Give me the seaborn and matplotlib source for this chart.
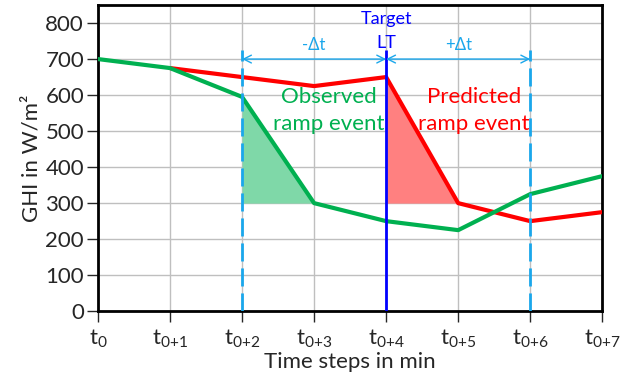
import numpy as np
import pandas as pd
import seaborn as sns
from matplotlib import pyplot as plt

# Data
steps = [0, 1, 2, 3, 4, 5, 6, 7]
tick_labels = [r'$\mathregular{t_{0}}$', r'$\mathregular{t_{0{+}1}}$', r'$\mathregular{t_{0{+}2}}$',
               r'$\mathregular{t_{0{+}3}}$', r'$\mathregular{t_{0{+}4}}$', r'$\mathregular{t_{0{+}5}}$',
               r'$\mathregular{t_{0{+}6}}$', r'$\mathregular{t_{0{+}7}}$']
observed = [700, 675, 595, 300, 250, 225, 325, 375]
predicted = [np.nan, 675, 650, 625, 650, 300, 250, 275]
ramp_base = 300
obs_ramp = [2, 3]
pred_ramp = [4, 5]
window = [2, 4, 6]

sns.set_style('white')
plt.rcParams['font.family'] = ['Lato', 'DejaVu Sans']
plt.rcParams['mathtext.fontset'] = 'custom'
plt.rcParams['mathtext.rm'] = 'Lato'

green = '#00B050'
red = '#FF0000'
cyan = '#1AA7EC'

df = pd.DataFrame({'step': steps, 'Observed': observed, 'Predicted': predicted})

fig = plt.figure(figsize=(6.28, 3.88), dpi=100)
ax = fig.add_axes([0.156, 0.198, 0.803, 0.789])

# ramp areas
ax.fill_between(obs_ramp, [observed[i] for i in obs_ramp], ramp_base, color='#7FD8A8', lw=0, zorder=2)
ax.fill_between(pred_ramp, [predicted[i] for i in pred_ramp], ramp_base, color='#FF8080', lw=0, zorder=2)

sns.lineplot(data=df, x='step', y='Observed', color=green, lw=3, ax=ax, zorder=4)
sns.lineplot(data=df, x='step', y='Predicted', color=red, lw=3, ax=ax, zorder=3)

# time window markers
ax.vlines([window[0], window[2]], 0, 725, colors=cyan, linestyles=(0, (6.5, 2.5)), lw=2, zorder=5)
ax.vlines(window[1], 0, 725, colors='#0000FF', lw=2, zorder=5)
for a, b in [(window[0], window[1]), (window[1], window[2])]:
    ax.annotate('', xy=(a, 700), xytext=(b, 700),
                arrowprops=dict(arrowstyle='<->', color=cyan, lw=1, mutation_scale=14, shrinkA=0, shrinkB=0),
                zorder=6)

ax.text(3, 740, '-Δt', color=cyan, ha='center', va='center', fontsize=12)
ax.text(5, 740, '+Δt', color=cyan, ha='center', va='center', fontsize=12)
ax.text(4, 812, 'Target', color='#0000FF', ha='center', va='center', fontsize=13)
ax.text(4, 746, 'LT', color='#0000FF', ha='center', va='center', fontsize=13)
ax.text(3.2, 594, 'Observed', color=green, ha='center', va='center', fontsize=16)
ax.text(3.2, 519, 'ramp event', color=green, ha='center', va='center', fontsize=16)
ax.text(5.22, 594, 'Predicted', color=red, ha='center', va='center', fontsize=16)
ax.text(5.22, 519, 'ramp event', color=red, ha='center', va='center', fontsize=16)

ax.set_xlim(0, 7)
ax.set_ylim(0, 850)
ax.set_xticks(steps)
ax.set_xticklabels(tick_labels, fontsize=16)
ax.set_yticks(range(0, 900, 100))
ax.tick_params(axis='y', labelsize=16, length=8, width=1, direction='out', left=True, pad=2)
ax.tick_params(axis='x', length=8, width=1, direction='out', bottom=True, pad=4)
ax.grid(color='#BFBFBF', lw=1)
ax.set_axisbelow(True)
for s in ax.spines.values():
    s.set_color('black')
    s.set_linewidth(2)
ax.set_xlabel('Time steps in min', fontsize=16, labelpad=1)
ax.set_ylabel('GHI in W/m²', fontsize=16, labelpad=3)

plt.savefig('out.png', dpi=100)
